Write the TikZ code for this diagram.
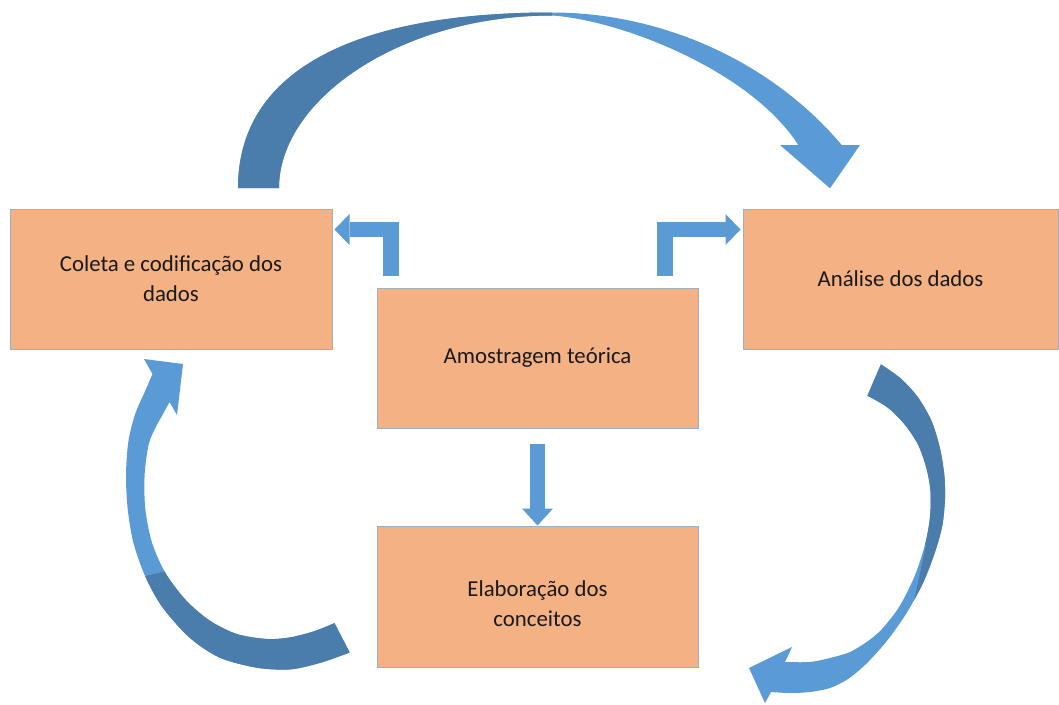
\documentclass[tikz,border=0pt]{standalone}
\usepackage{fontspec}
\setmainfont{Carlito}
\usetikzlibrary{arrows.meta,calc}
\definecolor{boxfill}{HTML}{F4B183}
\definecolor{boxline}{HTML}{9DAFC3}
\definecolor{arrlight}{HTML}{5B9BD5}
\definecolor{arrdark}{HTML}{4A7DAB}
\definecolor{txt}{HTML}{1A1A1A}
\tikzset{
  box/.style={draw=boxline, line width=1pt, fill=boxfill, minimum width=321pt,
    minimum height=140pt, inner sep=0pt, align=center, text=txt,
    font=\fontsize{22.8}{30}\selectfont},
  blockarrow/.style={draw=arrlight, line width=15.5pt, line join=miter,
    -{Triangle[width=31pt,length=15pt,line width=0pt]}},
  smoothplot/.style={smooth, tension=0.5}
}
\begin{document}
\begin{tikzpicture}[x=1pt,y=-1pt]
\fill[white] (0,0) rectangle (1059,704);
\useasboundingbox (0,0) rectangle (1059,704);

% boxes
\node[box, minimum width=322pt] (col) at (171,279) {Coleta e codificação dos\\dados};
\node[box] (amo) at (537.5,358) {Amostragem teórica};
\node[box, minimum width=315pt] (ana) at (900.5,279) {Análise dos dados};
\node[box, minimum height=141pt] (ela) at (537.5,596.5) {\rule{0pt}{31pt}Elaboração dos\\conceitos};

% straight block arrows
\draw[blockarrow] ($(amo.north west)+(14.5,-12)$) |- ($(col.north east)+(2,21)$);
\draw[blockarrow] ($(amo.north east)+(-33.5,-12)$) |- ($(ana.north west)+(-2,21)$);
\draw[blockarrow, -{Triangle[width=31pt,length=17pt,line width=0pt]}] ($(amo.south)+(0,15)$) -- (ela.north);

% top curved arrow: Coleta -> Analise
\path[save path=\topband] (238,188) .. controls (238,74) and (348,12.5) .. (552,12.5)
  .. controls (660,12.5) and (770,60) .. (841.7,145)
  -- (860,145) -- (830,188.3) -- (780,145) -- (798.3,145)
  .. controls (750,70) and (620,20) .. (552,15.5)
  .. controls (400,15.5) and (279,100) .. (279,188) -- cycle;
\fill[arrlight, use path=\topband];
\begin{scope}
  \clip (200,0) rectangle (552,200);
  \fill[arrdark, use path=\topband];
\end{scope}

% left curved arrow: Elaboracao -> Coleta
\path[save path=\leftband] plot[smoothplot] coordinates {(349.7,652.5) (321,662.6) (290.5,669.4) (256.8,667.7) (219.6,657.6) (189.2,637.3) (162.2,606.9) (145.3,576.5) (133.4,542.7) (127.7,508.9) (126,475) (128.4,441.4) (135.1,414.3) (145.3,390.7) (152.5,374)}
  -- (144,359) -- (183,364) -- (177,415)
  -- plot[smoothplot] coordinates {(169.5,402) (163,414) (155.4,427.8) (148.6,444.7) (144.6,475.1) (145.3,508.9) (152,542.7) (165.5,573.1) (185.8,600.1) (209.5,620.4) (236.5,633.9) (266.9,639) (290.5,637.3) (314.2,631.2) (334.5,623.1)} -- cycle;
\fill[arrlight, use path=\leftband];
\begin{scope}
  \clip (90,590) -- (210,560) -- (400,560) -- (400,704) -- (90,704) -- cycle;
  \fill[arrdark, use path=\leftband];
\end{scope}

% right curved arrow: Analise -> Elaboracao
\path[save path=\rightband] plot[smoothplot] coordinates {(880.9,364.3) (901.1,378.8) (918,397.4) (931.5,421) (939.9,448) (944.3,475) (945,498.6) (942.3,525.6) (934.8,552.6) (923,583) (906,614) (886,642) (866,664) (848,679) (830,688) (810,692) (790,693) (771,692)}
  -- (765,703) -- (749,668) -- (792,647)
  -- plot[smoothplot] coordinates {(785,662) (810,662) (830,658) (850,652) (868,641) (882,629) (899.4,606.5) (914.6,576.2) (924.7,545.8) (929.8,518.8) (930.5,491.8) (926.4,468.2) (918,444.6) (904.5,424.3) (887.6,407.5) (867.4,395.7)} -- cycle;
\fill[arrlight, use path=\rightband];
\begin{scope}
  \clip (850,330) -- (1000,330) -- (1000,625) -- (909,625) -- (926,545) -- (850,510) -- cycle;
  \fill[arrdark, use path=\rightband];
\end{scope}
\end{tikzpicture}
\end{document}
